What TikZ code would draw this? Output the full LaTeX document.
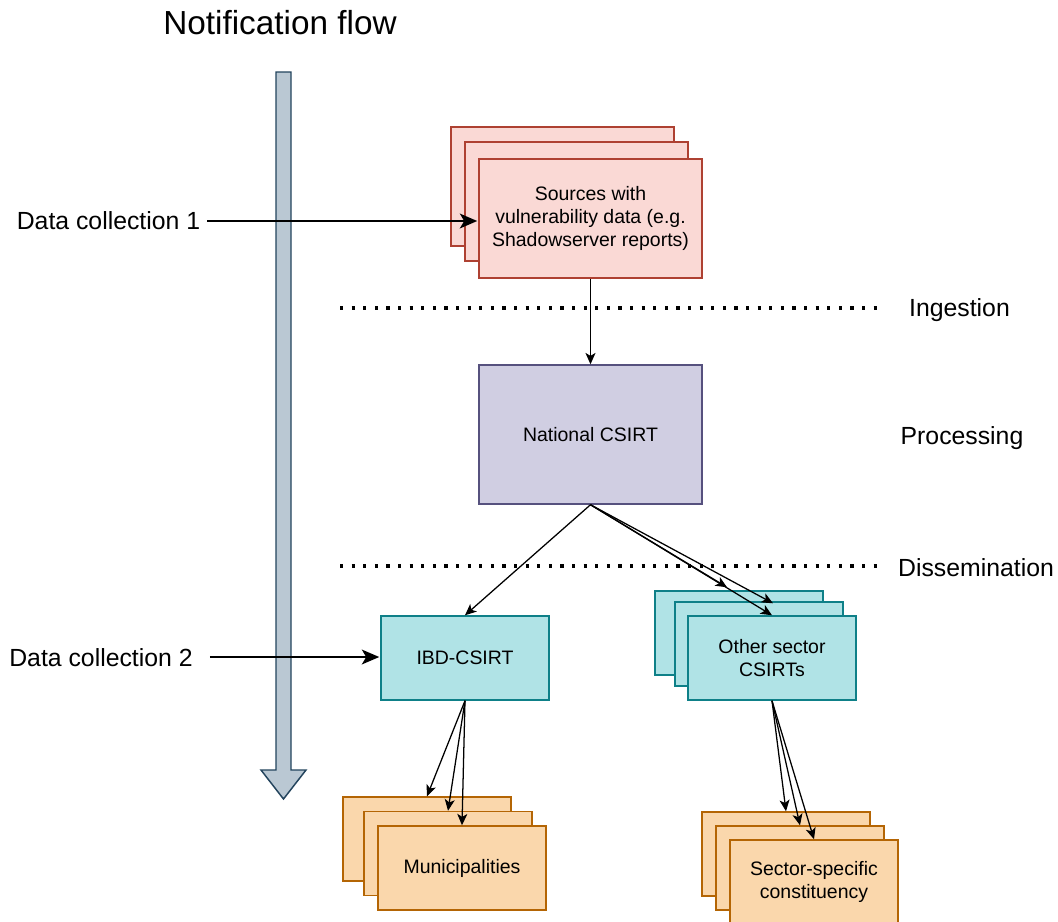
\documentclass[tikz,border=0pt]{standalone}
\usepackage{fontspec}
\setmainfont{Liberation Sans}
\usetikzlibrary{arrows.meta,calc}
\definecolor{redfill}{HTML}{FAD9D5}
\definecolor{redline}{HTML}{AE4132}
\definecolor{purfill}{HTML}{D0CEE2}
\definecolor{purline}{HTML}{56517E}
\definecolor{tealfill}{HTML}{B0E3E6}
\definecolor{tealline}{HTML}{0E8088}
\definecolor{orfill}{HTML}{FAD7AC}
\definecolor{orline}{HTML}{B46504}
\definecolor{bigfill}{HTML}{BAC8D3}
\definecolor{bigline}{HTML}{23445D}
\begin{document}
\begin{tikzpicture}[x=0.75pt,y=-0.75pt,
  box/.style={rectangle, draw, line width=1.1pt, inner sep=0pt,
    minimum width=168*0.75pt, minimum height=84*0.75pt, align=center,
    font=\fontsize{14.6}{17.3}\selectfont},
  redbox/.style={box, fill=redfill, draw=redline, minimum width=223*0.75pt, minimum height=119*0.75pt},
  purbox/.style={box, fill=purfill, draw=purline, minimum width=223*0.75pt, minimum height=139*0.75pt},
  tealbox/.style={box, fill=tealfill, draw=tealline},
  orbox/.style={box, fill=orfill, draw=orline},
  lbl/.style={font=\fontsize{18.6}{22}\selectfont, inner sep=0pt, text height=13.3pt, text depth=0pt},
  ttl/.style={font=\fontsize{25}{30}\selectfont, inner sep=0pt, text height=17.9pt, text depth=0pt},
  arr/.style={-{Stealth[length=8.5pt,width=7.5pt,inset=2.2pt]}, line width=0.95pt},
  thickarr/.style={-{Stealth[length=13pt,width=11pt,inset=3.2pt]}, line width=1.9pt},
  dotline/.style={line width=2.4pt, dash pattern=on 2.4pt off 6.3pt},
  bigarrow/.style={fill=bigfill, draw=bigline, line width=1.1pt, line join=miter}
]
\useasboundingbox (0,0) rectangle (1058,922);
\fill[white] (0,0) rectangle (1058,922);

% title
\node[ttl] (title) at (280,23) {Notification flow};

% big flow arrow
\draw[bigarrow] (276,72) -- (291,72) -- (291,770) -- (306,770) -- (283.5,799)
  -- (261,770) -- (276,770) -- cycle;

% dotted separators
\draw[dotline] (340,308) -- (878,308);
\draw[dotline] (340,566) -- (878,566);

% phase labels
\node[lbl] (ingest) at (959.5,308) {Ingestion};
\node[lbl] (proc) at (962,436) {Processing};
\node[lbl] (dissem) at (976,568) {Dissemination};

% data collection labels
\node[lbl] (dc1) at (108.5,221) {Data collection 1};
\node[lbl] (dc2) at (101,658) {Data collection 2};

% sources stack
\node[redbox] (srcback) at (562.5,186.5) {};
\node[redbox] (srcmid) at (576.5,201.5) {};
\node[redbox] (srcfront) at (590.5,218.5) {Sources with\\vulnerability data (e.g.\\Shadowserver reports)};

% national CSIRT
\node[purbox] (nat) at (590.5,434.5) {National CSIRT};

% IBD-CSIRT
\node[tealbox] (ibd) at (465,658) {IBD-CSIRT};

% other sector CSIRTs stack
\node[tealbox] (oback) at (739,633) {};
\node[tealbox] (omid) at (759,644) {};
\node[tealbox] (ofront) at (772,658) {Other sector\\CSIRTs};

% municipalities stack
\node[orbox] (mback) at (427,839) {};
\node[orbox] (mmid) at (448,853.5) {};
\node[orbox] (mfront) at (462,868) {Municipalities};

% sector-specific stack
\node[orbox] (sback) at (786,854) {};
\node[orbox] (smid) at (800,868) {};
\node[orbox] (sfront) at (814,882) {Sector-specific\\constituency};

% connectors
\draw[thickarr] ($(dc1.east)+(7,0)$) -- ($(dc1.east -| srcfront.west)+(-1,0)$);
\draw[thickarr] ($(dc2.east)+(17,-1)$) -- ($(dc2.east -| ibd.west)+(-1,-1)$);

\draw[arr] (srcfront.south) -- (nat.north);
\draw[arr] (nat.south) -- (ibd.north);
\draw[arr] (nat.south) -- ($(oback.north)+(-12,-3)$);
\draw[arr] (nat.south) -- ($(omid.north)+(14,2)$);
\draw[arr] (nat.south) -- (ofront.north);

\draw[arr] (ibd.south) -- (mback.north);
\draw[arr] (ibd.south) -- (mmid.north);
\draw[arr] (ibd.south) -- (mfront.north);

\draw[arr] (ofront.south) -- (sback.north);
\draw[arr] (ofront.south) -- (smid.north);
\draw[arr] (ofront.south) -- (sfront.north);
\end{tikzpicture}
\end{document}
